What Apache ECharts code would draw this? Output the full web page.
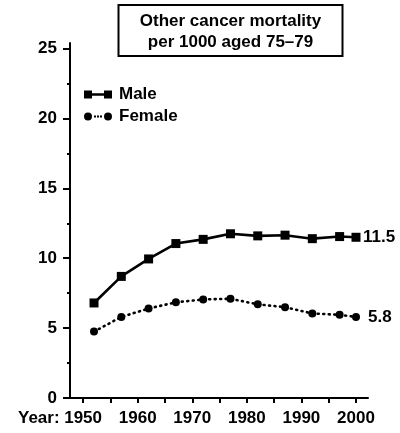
<!DOCTYPE html>
<html><head><meta charset="utf-8">
<script src="https://cdn.jsdelivr.net/npm/echarts@6/dist/echarts.min.js"></script>
<style>html,body{margin:0;padding:0;background:#fff}#c{width:400px;height:433px}</style>
</head><body><div id="c"></div>
<script>
const years = [1952, 1957, 1962, 1967, 1972, 1977, 1982, 1987, 1992, 1997, 2000];
const male = [6.8, 8.7, 9.95, 11.05, 11.35, 11.75, 11.6, 11.65, 11.4, 11.55, 11.5];
const female = [4.75, 5.8, 6.4, 6.85, 7.05, 7.1, 6.7, 6.5, 6.05, 5.95, 5.8];
const yTickLabels = [0, 5, 10, 15, 20, 25];
const yMinorTicks = [2.5, 7.5, 12.5, 17.5, 22.5];
const xTickLabels = [1950, 1960, 1970, 1980, 1990, 2000];
const xTicks = [1950, 1955, 1960, 1965, 1970, 1975, 1980, 1985, 1990, 1995, 2000];
const titleLines = ['Other cancer mortality', 'per 1000 aged 75\u201379'];
const seriesNames = ['Male', 'Female'];
const endLabels = ['11.5', '5.8'];

const FONT = 'Liberation Sans, Arial, sans-serif';
const FS = 17;
const chart = echarts.init(document.getElementById('c'), null, {renderer: 'canvas'});
const lab = {color: '#000', fontFamily: FONT, fontWeight: 'bold', fontSize: FS};

chart.setOption({
  animation: false,
  backgroundColor: '#fff',
  title: {
    text: titleLines.join('\n'),
    left: 208.5, top: 5,
    textAlign: 'center',
    padding: [6, 22, 3, 22],
    borderColor: '#000', borderWidth: 2,
    textStyle: Object.assign({}, lab, {lineHeight: 21})
  },
  legend: {
    orient: 'vertical', left: 84, top: 86, padding: 0,
    itemWidth: 28, itemHeight: 8, itemGap: 5,
    textStyle: Object.assign({}, lab, {lineHeight: 17, padding: [0, 0, 0, 2]}),
    data: [
      {name: seriesNames[0], icon: 'path://M0 0H8V8H0ZM20 0H28V8H20ZM8 2.7H20V5.3H8Z'},
      {name: seriesNames[1], icon: 'path://M0 4A4 4 0 1 0 8 4A4 4 0 1 0 0 4ZM20 4A4 4 0 1 0 28 4A4 4 0 1 0 20 4ZM10 3H12V5H10ZM13 3H15V5H13ZM16 3H18V5H16Z'}
    ]
  },
  grid: {left: 70, right: 32, top: 43, bottom: 35},
  xAxis: {
    type: 'value', min: 1947.6, max: 2002.2,
    axisLine: {lineStyle: {color: '#000', width: 2}},
    axisTick: {show: true, length: 5, lineStyle: {color: '#000', width: 2}, customValues: xTicks},
    axisLabel: Object.assign({}, lab, {margin: 12, customValues: xTickLabels, formatter: v => String(v)}),
    splitLine: {show: false}
  },
  yAxis: [{
    type: 'value', min: 0, max: 25.4,
    axisLine: {show: true, lineStyle: {color: '#000', width: 2}},
    axisTick: {show: true, length: 7, lineStyle: {color: '#000', width: 2}, customValues: yTickLabels},
    axisLabel: Object.assign({}, lab, {margin: 13, customValues: yTickLabels}),
    splitLine: {show: false}
  }, {
    type: 'value', min: 0, max: 25.4, position: 'left',
    axisLine: {show: false},
    axisTick: {show: true, length: 3, lineStyle: {color: '#000', width: 2}, customValues: yMinorTicks},
    axisLabel: {show: false},
    splitLine: {show: false}
  }],
  graphic: [{
    type: 'text', left: 18, top: 410,
    style: {text: 'Year:', fill: '#000', font: 'bold ' + FS + 'px ' + FONT}
  }],
  series: [{
    name: seriesNames[0], type: 'line',
    data: years.map((y, i) => [y, male[i]]),
    symbol: 'rect', symbolSize: 9,
    itemStyle: {color: '#000'},
    lineStyle: {color: '#000', width: 2.6},
    endLabel: {show: true, formatter: endLabels[0], color: '#000', fontFamily: FONT, fontWeight: 'bold', fontSize: FS, distance: 7}
  }, {
    name: seriesNames[1], type: 'line',
    data: years.map((y, i) => [y, female[i]]),
    symbol: 'circle', symbolSize: 8,
    itemStyle: {color: '#000'},
    lineStyle: {color: '#000', width: 2.6, type: [1, 4.5], cap: 'round'},
    endLabel: {show: true, formatter: endLabels[1], color: '#000', fontFamily: FONT, fontWeight: 'bold', fontSize: FS, distance: 12}
  }]
});
</script></body></html>
